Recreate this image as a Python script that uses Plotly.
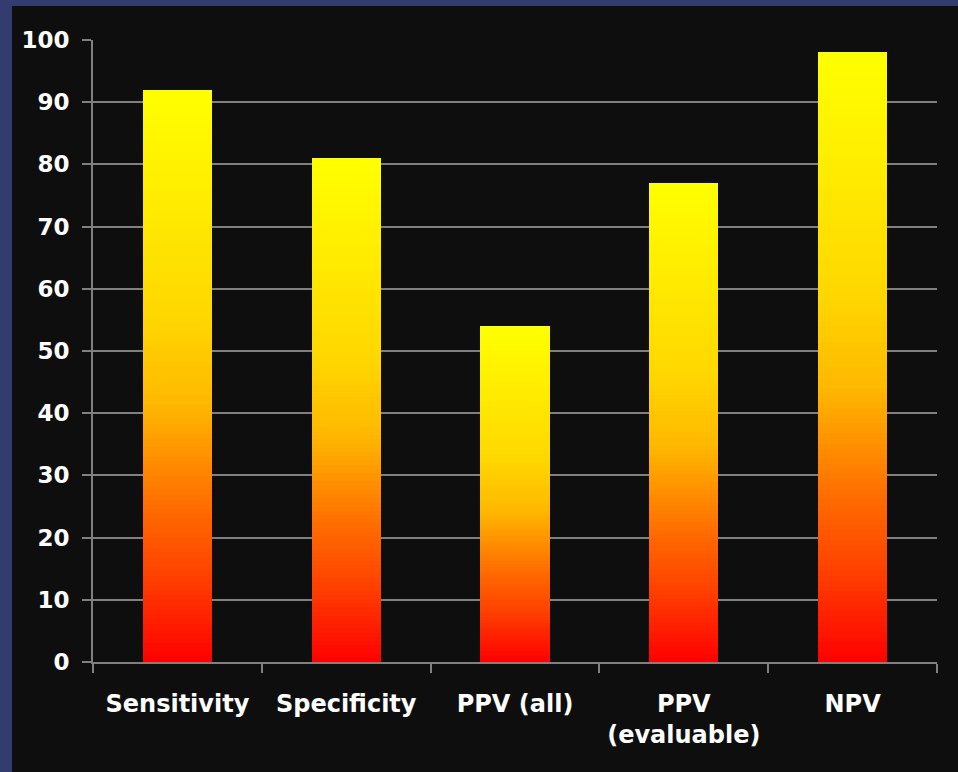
import plotly.graph_objects as go

categories = ["Sensitivity", "Specificity", "PPV (all)", "PPV<br>(evaluable)", "NPV"]
values = [92, 81, 54, 77, 98]
y_ticks = [0, 10, 20, 30, 40, 50, 60, 70, 80, 90, 100]

# gradient style stops: (fraction of bar height, green channel)
grad_stops = [(0.0, 0), (0.15, 64), (0.28, 112), (0.38, 154), (0.45, 184),
              (0.55, 204), (0.6, 215), (0.8, 235), (1.0, 255)]

def green_at(f):
    for (f0, g0), (f1, g1) in zip(grad_stops[:-1], grad_stops[1:]):
        if f0 <= f <= f1:
            return g0 + (g1 - g0) * (f - f0) / (f1 - f0)
    return 255

N = 120
fig = go.Figure()
for k in range(N):
    f = (k + 0.5) / N
    g = int(round(green_at(f)))
    fig.add_trace(go.Bar(
        x=categories,
        y=[v / N for v in values],
        marker=dict(color=f"rgb(255,{g},0)", line=dict(width=0)),
        width=0.41,
        hoverinfo="skip",
        showlegend=False,
    ))

navy = "#323c6e"
fig.update_layout(
    barmode="stack",
    width=958, height=772,
    margin=dict(l=93, r=21, t=40, b=110),
    paper_bgcolor="#0e0e0e",
    plot_bgcolor="#0e0e0e",
    font=dict(family="DejaVu Sans", color="white"),
    showlegend=False,
    xaxis=dict(
        tickson="boundaries", ticks="outside", ticklen=9, tickwidth=2, tickcolor="#808080",
        showline=True, linecolor="#808080", linewidth=2,
        showgrid=False,
        tickfont=dict(size=24, family="DejaVu Sans", weight="bold", color="white"),
        ticklabelstandoff=19,
        range=[-0.5, 4.5], fixedrange=True,
    ),
    yaxis=dict(
        range=[0, 100], tickvals=y_ticks, ticktext=[str(t) for t in y_ticks],
        ticks="outside", ticklen=9, tickwidth=2, tickcolor="#808080",
        showline=True, linecolor="#808080", linewidth=2,
        showgrid=True, gridcolor="#808080", gridwidth=2,
        zeroline=False,
        tickfont=dict(size=23, family="DejaVu Sans", weight="bold", color="white"),
        ticklabelstandoff=8,
    ),
    shapes=[
        dict(type="rect", xref="paper", yref="paper",
             xsizemode="pixel", xanchor=0, ysizemode="pixel", yanchor=0,
             x0=-93, x1=-81, y0=-110, y1=662, fillcolor=navy, line=dict(width=0), layer="below"),
        dict(type="rect", xref="paper", yref="paper",
             xsizemode="pixel", xanchor=0, ysizemode="pixel", yanchor=1,
             x0=-93, x1=865, y0=34, y1=40, fillcolor=navy, line=dict(width=0), layer="below"),
    ],
)

fig.write_html("out.html", config={"displayModeBar": False},
               post_script="document.body.style.margin='0';")
